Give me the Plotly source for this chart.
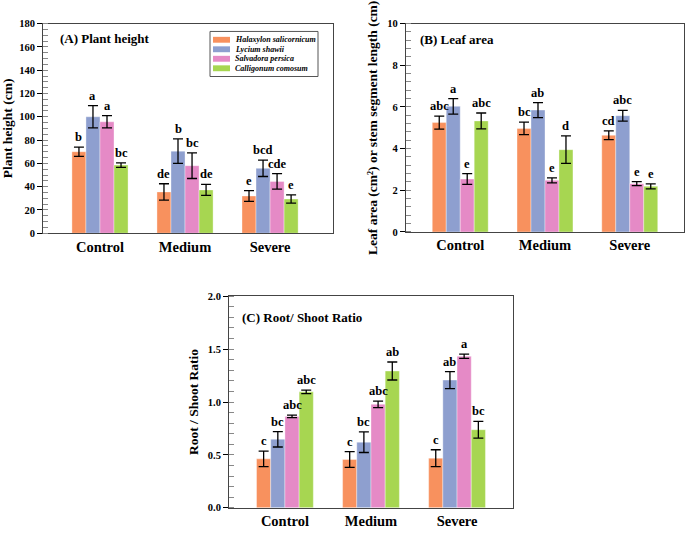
import plotly.graph_objects as go

categories = ["Control", "Medium", "Severe"]
species = ["Halaxylon salicornicum", "Lycium shawii", "Salvadora persica", "Calligonum comosum"]
colors = ["#F8915E", "#8E9FCF", "#E58AC6", "#A7D651"]

# Panel A: plant height (cm)
height_vals = [[70, 35.5, 32], [100, 70.5, 55.7], [95.7, 58, 44.5], [58.5, 37.2, 29.4]]
height_err = [[4, 7, 4.6], [9.5, 10.5, 7], [5.3, 11, 6.7], [2, 4.7, 3.5]]
height_letters = [["b", "de", "e"], ["a", "b", "bcd"], ["a", "bc", "cde"], ["bc", "de", "e"]]

# Panel B: leaf area
leaf_vals = [[5.25, 4.97, 4.64], [6.03, 5.85, 5.58], [2.54, 2.48, 2.32], [5.33, 3.95, 2.19]]
leaf_err = [[0.31, 0.3, 0.21], [0.37, 0.36, 0.26], [0.26, 0.12, 0.1], [0.38, 0.66, 0.12]]
leaf_letters = [["abc", "bc", "cd"], ["a", "ab", "abc"], ["e", "e", "e"], ["abc", "d", "e"]]

# Panel C: root/shoot ratio
rs_vals = [[0.463, 0.457, 0.469], [0.648, 0.62, 1.207], [0.864, 0.978, 1.432], [1.096, 1.293, 0.738]]
rs_err = [[0.073, 0.074, 0.08], [0.073, 0.097, 0.08], [0.012, 0.031, 0.02], [0.017, 0.085, 0.079]]
rs_letters = [["c", "c", "c"], ["bc", "bc", "ab"], ["abc", "abc", "a"], ["abc", "ab", "bc"]]

FONT = "Liberation Serif"
W, H = 686, 538
BARGAP = 0.34
barw = (1 - BARGAP) / 4
xpos = list(range(len(categories)))

def px(x):
    return x / W

def py(y):
    return 1 - y / H

fig = go.Figure()

panels = [
    dict(vals=height_vals, err=height_err, letters=height_letters, xa="x", ya="y",
         xdom=[0.0627, 0.4854], ydom=[0.5669, 0.9647], xr=[-0.67, 2.74], yr=[0, 180],
         dtick=20, minor=5, fmt="", title="Plant height (cm)", label="(A) Plant height",
         titlepos=(58, 34)),
    dict(vals=leaf_vals, err=leaf_err, letters=leaf_letters, xa="x2", ya="y2",
         xdom=[0.5918, 0.9971], ydom=[0.5693, 0.9647], xr=[-0.64, 2.64], yr=[0, 10],
         dtick=2, minor=0.4, fmt="", title="Leaf area (cm²) or stem segment length (cm)",
         label="(B) Leaf area", titlepos=(418, 35)),
    dict(vals=rs_vals, err=rs_err, letters=rs_letters, xa="x3", ya="y3",
         xdom=[0.3338, 0.7478], ydom=[0.0459, 0.4474], xr=[-0.65, 2.65], yr=[0, 2.0],
         dtick=0.5, minor=0.1, fmt=".1f", title="Root / Shoot Ratio",
         label="(C) Root/ Shoot Ratio", titlepos=(240, 319)),
]

annotations = []
shapes = []
for pi, p in enumerate(panels):
    for j in range(4):
        fig.add_trace(go.Bar(
            x=xpos, y=p["vals"][j], name=species[j], xaxis=p["xa"], yaxis=p["ya"],
            marker=dict(color=colors[j], line=dict(color="rgba(255,255,255,0.6)", width=0.6)),
            error_y=dict(type="data", array=p["err"][j], visible=True, color="black",
                         thickness=1.3, width=5),
            showlegend=False, offsetgroup=str(j),
        ))
        for i in range(len(categories)):
            annotations.append(dict(
                x=i + (j - 1.5) * barw, y=p["vals"][j][i] + p["err"][j][i],
                xref=p["xa"], yref=p["ya"], text="<b>%s</b>" % p["letters"][j][i],
                showarrow=False, yanchor="bottom", yshift=1,
                font=dict(family=FONT, size=12.5, color="black")))
    annotations.append(dict(
        x=px(p["titlepos"][0]), y=py(p["titlepos"][1]), xref="paper", yref="paper",
        text="<b>%s</b>" % p["label"], showarrow=False, xanchor="left", yanchor="middle",
        font=dict(family=FONT, size=13, color="black")))

# manual compact legend in panel A
shapes.append(dict(type="rect", xref="paper", yref="paper",
                   x0=px(210), x1=px(318), y0=py(73), y1=py(27),
                   line=dict(color="#555555", width=1), fillcolor="white", layer="above"))
for j, name in enumerate(species):
    yc = 35.5 + j * 9.7
    shapes.append(dict(type="rect", xref="paper", yref="paper",
                       x0=px(213), x1=px(230), y0=py(yc + 3), y1=py(yc - 3),
                       line=dict(width=0), fillcolor=colors[j], layer="above"))
    annotations.append(dict(
        x=px(233), y=py(yc), xref="paper", yref="paper", text="<b><i>%s</i></b>" % name,
        showarrow=False, xanchor="left", yanchor="middle",
        font=dict(family=FONT, size=8, color="black")))

layout = dict(
    width=W, height=H, margin=dict(l=0, r=0, t=0, b=0),
    paper_bgcolor="white", plot_bgcolor="white",
    barmode="group", bargap=BARGAP, bargroupgap=0, showlegend=False,
    font=dict(family=FONT, color="black"),
    annotations=annotations, shapes=shapes,
)

for pi, p in enumerate(panels):
    sx = "" if pi == 0 else str(pi + 1)
    layout["xaxis" + sx] = dict(
        domain=p["xdom"], range=p["xr"], anchor=p["ya"], tickvals=xpos, ticktext=categories,
        showline=True, linecolor="#444444", linewidth=1, mirror=True, ticks="",
        showgrid=False, zeroline=False,
        tickfont=dict(family=FONT, size=14.5, color="black", weight="bold"))
    layout["yaxis" + sx] = dict(
        domain=p["ydom"], range=p["yr"], anchor=p["xa"], dtick=p["dtick"], tick0=0,
        tickformat=p["fmt"], showline=True, linecolor="#444444", linewidth=1, mirror=True,
        ticks="outside", ticklen=5, tickcolor="black", tickwidth=1,
        minor=dict(dtick=p["minor"], ticks="inside", ticklen=5, tickcolor="#888888", showgrid=False),
        showgrid=False, zeroline=False,
        tickfont=dict(family=FONT, size=10.5, color="black", weight="bold"),
        title=dict(text="<b>%s</b>" % p["title"], font=dict(family=FONT, size=13.5, color="black"),
                   standoff=6))

fig.update_layout(**layout)
fig.write_html("out.html")
